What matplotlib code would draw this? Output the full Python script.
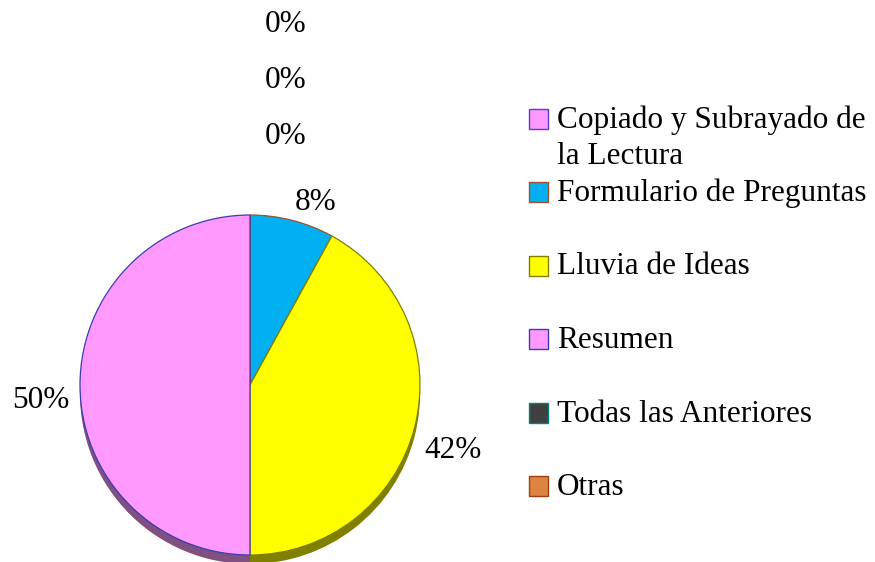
import numpy as np
import matplotlib.pyplot as plt
from matplotlib.patches import Rectangle

# data
categories = ["Copiado y Subrayado de\nla Lectura", "Formulario de Preguntas",
              "Lluvia de Ideas", "Resumen", "Todas las Anteriores", "Otras"]
values = [0, 8, 42, 50, 0, 0]
pct_labels = ["0%", "8%", "42%", "50%", "0%", "0%"]

face_colors = ["#FF99FF", "#00B0F0", "#FFFF00", "#FF99FF", "#404040", "#DD8440"]
edge_colors = ["#5A3CC8", "#A0522D", "#808000", "#3C3CB4", "#008080", "#A04010"]
shade_colors = ["#805080", "#005878", "#808000", "#7F5080", "#202020", "#6E4220"]

plt.rcParams['font.family'] = ['Liberation Serif', 'DejaVu Serif']
FS = 22.5

W, H = 875, 562
fig = plt.figure(figsize=(W / 100, H / 100), dpi=100)
ax = fig.add_axes([0, 0, 1, 1])

cx, cy, r = 250, H - 385, 170
depth = 9

# 3D-ish side: darker copy shifted down
shadow, _ = ax.pie(values, colors=shade_colors, startangle=90, counterclock=False,
                   center=(cx, cy - depth), radius=r, frame=True,
                   wedgeprops=dict(linewidth=0))
for w in shadow:
    w.set_zorder(1)

wedges, _ = ax.pie(values, colors=face_colors, startangle=90, counterclock=False,
                   center=(cx, cy), radius=r, frame=True,
                   wedgeprops=dict(linewidth=0.9))
for w, ec in zip(wedges, edge_colors):
    w.set_edgecolor(ec)
    w.set_zorder(2)
wedges[3].set_zorder(3)  # its blue outline sits on top, as in the original
ax.set_xlim(0, W)
ax.set_ylim(0, H)
ax.set_aspect('equal')
ax.axis('off')

# percentage labels, just outside each slice
total = sum(values)
cum = 0
for v, lab in zip(values, pct_labels):
    if v == 0:
        cum += v
        continue
    mid = 90 - 360 * (cum + v / 2) / total
    cum += v
    a = np.deg2rad(mid)
    dx, dy = np.cos(a), np.sin(a)
    x = cx + dx * r * 1.06
    y = cy + dy * r * 1.2 - 15
    ax.text(x, y, lab, ha='left' if dx > 0 else 'right', va='center',
            fontsize=FS, zorder=5)

# zero-valued slices stack above the first label
zeros = [lab for v, lab in zip(values, pct_labels) if v == 0]
for i, lab in enumerate(zeros):
    ax.text(265, H - 137 + i * 56, lab, ha='left', va='center', fontsize=FS)

# legend, drawn by hand like the spreadsheet one
base = [128, 201]
lstep = 73.5
for i, (cat, fc, ec) in enumerate(zip(categories, face_colors, edge_colors)):
    yb = base[i] if i < 2 else base[1] + (i - 1) * lstep
    y = H - yb
    ax.add_patch(Rectangle((529, y - 1), 19, 20, facecolor=fc, edgecolor=ec,
                           linewidth=1.0, zorder=5))
    first, *rest = cat.split("\n")
    ax.text(557, y, first, ha='left', va='baseline', fontsize=FS, zorder=5)
    for j, line in enumerate(rest):
        ax.text(557, y - 36 * (j + 1), line, ha='left', va='baseline',
                fontsize=FS, zorder=5)

fig.savefig("out.png", dpi=100)
